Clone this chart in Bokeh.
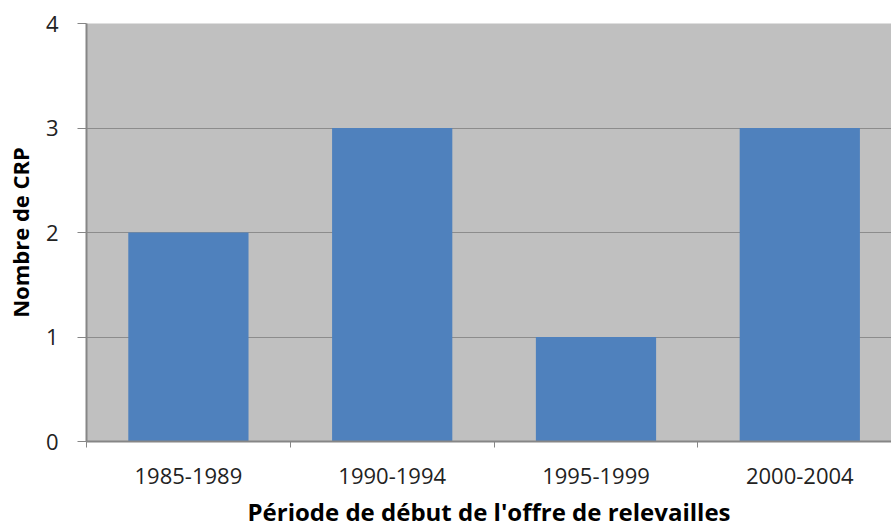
from bokeh.plotting import figure
from bokeh.models import Range1d, FixedTicker
from bokeh.embed import file_html
from bokeh.resources import INLINE

categories = ["1985-1989", "1990-1994", "1995-1999", "2000-2004"]
values = [2, 3, 1, 3]
y_ticks = [0, 1, 2, 3, 4]

positions = [i + 0.5 for i in range(len(categories))]
boundaries = [i for i in range(len(categories))]

p = figure(width=891, height=530, output_backend="svg", toolbar_location=None,
           x_range=Range1d(0, 3.95), y_range=Range1d(0, 4),
           min_border_left=86, min_border_top=23, min_border_right=0, min_border_bottom=87)
p.outline_line_color = None
p.background_fill_color = "#C0C0C0"
p.border_fill_color = "white"

p.vbar(x=positions, top=values, width=0.59, color="#4F81BD", line_color=None)

FONT = "Open Sans"
xa = p.xaxis[0]
xa.ticker = FixedTicker(ticks=positions, minor_ticks=boundaries)
xa.major_label_overrides = {pos: c for pos, c in zip(positions, categories)}
xa.major_tick_out = 0
xa.major_tick_in = 0
xa.minor_tick_out = 6
xa.minor_tick_in = 0
xa.minor_tick_line_color = "#868686"
xa.axis_line_color = "#868686"
xa.axis_line_width = 2
xa.major_label_text_font = FONT
xa.major_label_text_font_size = "22px"
xa.major_label_text_color = "#222222"
xa.major_label_standoff = 20
xa.axis_label = "Période de début de l'offre de relevailles"
xa.axis_label_text_font = FONT
xa.axis_label_text_font_size = "24px"
xa.axis_label_text_font_style = "bold"
xa.axis_label_text_color = "black"
xa.axis_label_standoff = 8

ya = p.yaxis[0]
ya.ticker = FixedTicker(ticks=y_ticks)
ya.minor_tick_line_color = None
ya.major_tick_out = 9
ya.major_tick_in = 0
ya.major_tick_line_color = "#868686"
ya.axis_line_color = "#868686"
ya.axis_line_width = 2
ya.major_label_text_font = FONT
ya.major_label_text_font_size = "22px"
ya.major_label_text_color = "#222222"
ya.major_label_standoff = 19
ya.axis_label = "Nombre de CRP"
ya.axis_label_text_font = FONT
ya.axis_label_text_font_size = "22px"
ya.axis_label_text_font_style = "bold"
ya.axis_label_text_color = "black"
ya.axis_label_standoff = 8

p.xgrid.grid_line_color = None
p.ygrid.grid_line_color = "#8C8C8C"
p.ygrid.grid_line_width = 1
p.ygrid.ticker = FixedTicker(ticks=y_ticks)

open("out.html", "w").write(file_html(p, INLINE))
